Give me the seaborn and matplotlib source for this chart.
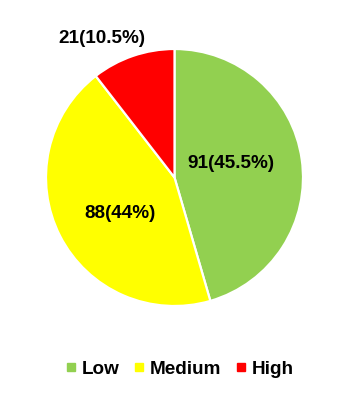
import matplotlib
matplotlib.use("Agg")
import matplotlib.pyplot as plt
import seaborn as sns
from matplotlib.lines import Line2D

categories = ["Low", "Medium", "High"]
counts = [91, 88, 21]
percents = ["45.5%", "44%", "10.5%"]
colors = ["#92D050", "#FFFF00", "#FF0000"]

sns.set_theme(style="white")
plt.rcParams["font.family"] = ["Liberation Sans", "DejaVu Sans"]
plt.rcParams["text.color"] = "black"

W, H = 360, 395
fig = plt.figure(figsize=(W / 100, H / 100), dpi=100)
cx, cy, r = 174.5, 177.5, 128.5
ax = fig.add_axes([(cx - r) / W, (H - cy - r) / H, 2 * r / W, 2 * r / H])

wedges, texts = ax.pie(
    counts, colors=colors, startangle=90, counterclock=False,
    labels=[f"{c}({p})" for c, p in zip(counts, percents)],
    labeldistance=0.55,
    wedgeprops=dict(edgecolor="white", linewidth=1.6),
    textprops=dict(fontsize=13.6, fontweight="bold", color="black",
                   ha="center", va="center"),
)
for t in texts:
    t.set_ha("center")
    t.set_va("center")
# nudge labels to match reference placement
texts[0].set_position((0.44, 0.11))
texts[1].set_position((-0.42, -0.28))
texts[2].set_position((-0.565, 1.08))

ax.set_xlim(-1, 1)
ax.set_ylim(-1, 1)
ax.set_aspect("equal")
ax.axis("off")

handles = [Line2D([0], [0], marker="s", linestyle="none", markersize=5.5,
                  markerfacecolor=c, markeredgecolor=c) for c in colors]
leg = fig.legend(handles, categories, loc="center", bbox_to_anchor=(0.5, 1 - 369 / H),
                 ncol=3, frameon=False, handlelength=0.5, handletextpad=0.3,
                 columnspacing=0.8, prop=dict(size=13.6, weight="bold"))
for t in leg.get_texts():
    t.set_color("black")

fig.savefig("out.png", dpi=100, facecolor="white")
